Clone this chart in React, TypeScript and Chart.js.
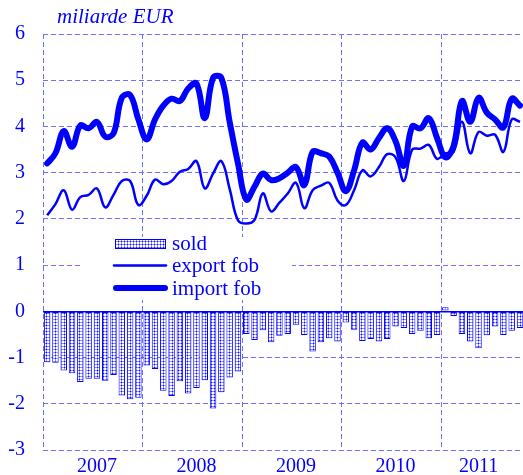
import React, { useEffect, useRef } from 'react';
import { Chart, registerables } from 'chart.js';

Chart.register(...registerables);

const months = [
  '2007-01', '2007-02', '2007-03', '2007-04', '2007-05', '2007-06', '2007-07', '2007-08', '2007-09', '2007-10', '2007-11', '2007-12',
  '2008-01', '2008-02', '2008-03', '2008-04', '2008-05', '2008-06', '2008-07', '2008-08', '2008-09', '2008-10', '2008-11', '2008-12',
  '2009-01', '2009-02', '2009-03', '2009-04', '2009-05', '2009-06', '2009-07', '2009-08', '2009-09', '2009-10', '2009-11', '2009-12',
  '2010-01', '2010-02', '2010-03', '2010-04', '2010-05', '2010-06', '2010-07', '2010-08', '2010-09', '2010-10', '2010-11', '2010-12',
  '2011-01', '2011-02', '2011-03', '2011-04', '2011-05', '2011-06', '2011-07', '2011-08', '2011-09', '2011-10',
];

const yearLabels = ['2007', '2008', '2009', '2010', '2011'];
const yearLabelIndex = [6, 18, 30, 42, 52];

const sold = [
  -1.10, -1.11, -1.28, -1.34, -1.53, -1.46, -1.46, -1.50, -1.38, -1.82, -1.90, -1.87,
  -1.17, -1.25, -1.72, -1.83, -1.51, -1.78, -1.66, -1.49, -2.10, -1.75, -1.43, -1.30,
  -0.49, -0.62, -0.41, -0.67, -0.53, -0.49, -0.29, -0.51, -0.87, -0.67, -0.58, -0.65,
  -0.24, -0.40, -0.64, -0.60, -0.65, -0.60, -0.33, -0.36, -0.49, -0.42, -0.58, -0.51,
  0.09, -0.10, -0.49, -0.65, -0.80, -0.52, -0.33, -0.51, -0.42, -0.36,
];

const exportFob = [
  2.08, 2.32, 2.62, 2.20, 2.47, 2.52, 2.66, 2.25, 2.52, 2.82, 2.82, 2.30,
  2.50, 2.85, 2.75, 2.82, 3.02, 3.08, 3.25, 2.66, 2.98, 3.25, 2.65, 1.97,
  1.90, 1.98, 2.55, 2.16, 2.35, 2.55, 2.78, 2.23, 2.62, 2.72, 2.78, 2.40,
  2.30, 2.62, 3.05, 2.92, 3.12, 3.40, 3.33, 2.82, 3.50, 3.52, 3.60, 3.30,
  3.42, 3.45, 4.10, 3.42, 3.88, 3.80, 3.82, 3.45, 4.15, 4.10,
];

const importFob = [
  3.20, 3.42, 3.90, 3.56, 4.02, 3.96, 4.10, 3.78, 3.85, 4.62, 4.68, 4.15,
  3.72, 4.15, 4.45, 4.60, 4.55, 4.82, 4.93, 4.18, 5.05, 5.05, 4.10, 3.20,
  2.42, 2.70, 2.98, 2.84, 2.88, 3.00, 3.12, 2.73, 3.45, 3.42, 3.35, 3.00,
  2.60, 3.05, 3.65, 3.50, 3.75, 3.96, 3.68, 3.15, 4.00, 3.96, 4.18, 3.75,
  3.33, 3.58, 4.55, 4.10, 4.62, 4.30, 4.15, 3.98, 4.60, 4.45,
];

const legendLabels = ['sold', 'export fob', 'import fob'];
const unitTitle = 'miliarde EUR';

const BLUE = '#0000ff';
const GRID = '#7070ff';
const FONT = '"Liberation Serif", "Times New Roman", serif';

function makePattern(): CanvasPattern | string {
  const c = document.createElement('canvas');
  c.width = 3;
  c.height = 3;
  const g = c.getContext('2d');
  if (!g) return '#9999ff';
  g.fillStyle = '#ffffff';
  g.fillRect(0, 0, 3, 3);
  g.fillStyle = '#9090ff';
  g.fillRect(1, 0, 1, 3);
  g.fillRect(0, 1, 3, 1);
  g.fillStyle = '#1010ff';
  g.fillRect(1, 1, 1, 1);
  const p = g.createPattern(c, 'repeat');
  return p || '#9999ff';
}

const overlayPlugin = {
  id: 'overlayPlugin',
  beforeDatasetsDraw(chart: any) {
    const ctx = chart.ctx;
    ctx.save();
    ctx.fillStyle = '#ffffff';
    ctx.fillRect(83, 237, 209, 63);
    ctx.restore();
  },
  afterDraw(chart: any) {
    const ctx = chart.ctx;
    ctx.save();
    ctx.fillStyle = BLUE;
    ctx.textBaseline = 'middle';
    ctx.textAlign = 'left';
    ctx.font = `italic 21px ${FONT}`;
    ctx.fillText(unitTitle, 57, 17);

    // legend
    const pattern = chart.data.datasets[0].backgroundColor;
    ctx.fillStyle = pattern;
    ctx.fillRect(115, 239, 51, 10);
    ctx.strokeStyle = BLUE;
    ctx.lineWidth = 1;
    ctx.strokeRect(115.5, 239.5, 50, 9);

    ctx.lineCap = 'round';
    ctx.lineWidth = chart.data.datasets[1].borderWidth;
    ctx.beginPath();
    ctx.moveTo(114, 265.5);
    ctx.lineTo(166, 265.5);
    ctx.stroke();

    ctx.lineWidth = chart.data.datasets[2].borderWidth;
    ctx.beginPath();
    ctx.moveTo(116, 288);
    ctx.lineTo(165, 288);
    ctx.stroke();

    ctx.fillStyle = BLUE;
    ctx.font = `21px ${FONT}`;
    ctx.fillText(legendLabels[0], 172, 244);
    ctx.fillText(legendLabels[1], 172, 266);
    ctx.fillText(legendLabels[2], 172, 289);
    ctx.restore();
  },
};

export default function App() {
  const ref = useRef<HTMLCanvasElement | null>(null);

  useEffect(() => {
    if (!ref.current) return;
    const pattern = makePattern();
    const chart = new Chart(ref.current, {
      type: 'bar',
      data: {
        labels: months,
        datasets: [
          {
            type: 'bar',
            label: legendLabels[0],
            data: sold,
            backgroundColor: pattern as any,
            borderColor: BLUE,
            borderWidth: 1,
            borderSkipped: false,
            barPercentage: 0.78,
            categoryPercentage: 1,
            order: 3,
          },
          {
            type: 'line',
            label: legendLabels[1],
            data: exportFob,
            borderColor: BLUE,
            borderWidth: 2.5,
            pointRadius: 0,
            tension: 0.4,
            fill: false,
            order: 2,
          },
          {
            type: 'line',
            label: legendLabels[2],
            data: importFob,
            borderColor: BLUE,
            borderWidth: 6,
            pointRadius: 0,
            tension: 0.4,
            fill: false,
            borderCapStyle: 'round',
            borderJoinStyle: 'round',
            order: 1,
          },
        ] as any,
      },
      options: {
        responsive: false,
        animation: false,
        devicePixelRatio: 1,
        layout: { autoPadding: false, padding: { top: 34, left: 0, right: 0, bottom: 0 } },
        plugins: {
          legend: { display: false },
          tooltip: { enabled: false },
          title: { display: false },
        },
        scales: {
          x: {
            type: 'category',
            offset: true,
            grid: {
              offset: true,
              drawTicks: false,
              color: (c: any) => (c.index % 12 === 0 ? GRID : 'rgba(0,0,0,0)'),
              lineWidth: 1,
            },
            border: { display: false, dash: [5, 3] },
            ticks: {
              autoSkip: false,
              maxRotation: 0,
              minRotation: 0,
              padding: 5,
              color: BLUE,
              font: { family: FONT, size: 20 },
              callback: (_v: any, i: number) => {
                const k = yearLabelIndex.indexOf(i);
                return k >= 0 ? yearLabels[k] : '';
              },
            },
            afterFit: (s: any) => {
              s.height = 25;
            },
          },
          y: {
            min: -3,
            max: 6,
            ticks: {
              stepSize: 1,
              padding: 0,
              color: BLUE,
              font: { family: FONT, size: 20 },
            },
            grid: {
              drawTicks: true,
              tickLength: 18,
              tickColor: 'rgba(0,0,0,0)',
              color: (c: any) => (c.tick && c.tick.value === 0 ? BLUE : GRID),
              lineWidth: (c: any) => (c.tick && c.tick.value === 0 ? 1.5 : 1),
            },
            border: {
              display: false,
              dash: (c: any) => (c.tick && c.tick.value === 0 ? [] : [5, 3]),
            } as any,
            afterFit: (s: any) => {
              s.width = 43;
            },
          },
        },
      } as any,
      plugins: [overlayPlugin],
    });
    return () => chart.destroy();
  }, []);

  return (
    <div style={{ position: 'absolute', left: 0, top: 0, width: 523, height: 475, overflow: 'hidden', background: '#fff' }}>
      <canvas ref={ref} width={525} height={475} style={{ width: 525, height: 475, display: 'block' }} />
    </div>
  );
}
